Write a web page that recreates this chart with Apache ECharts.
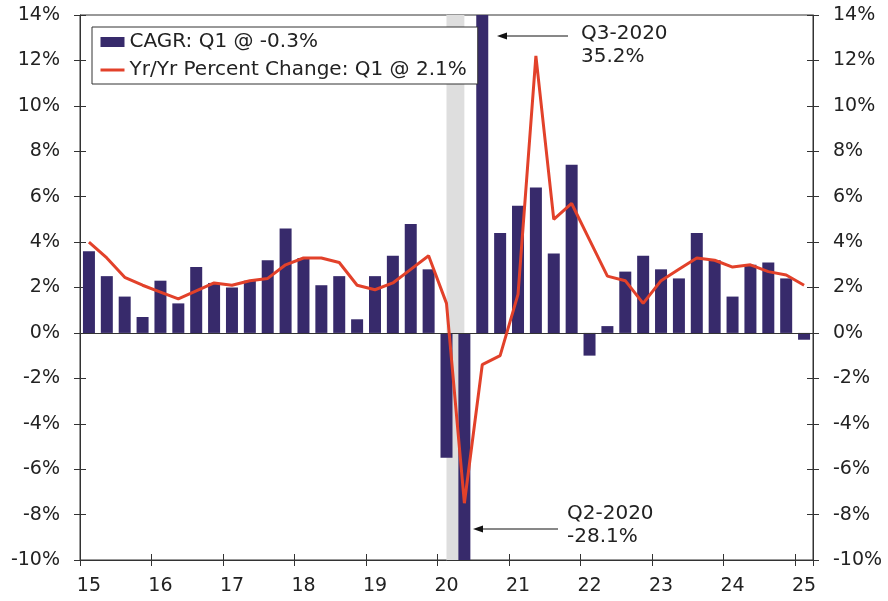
<!DOCTYPE html>
<html>
<head>
<meta charset="utf-8">
<script src="https://cdn.jsdelivr.net/npm/echarts@6/dist/echarts.min.js"></script>
<style>
  html, body { margin: 0; padding: 0; background: #fff; }
  #chart { width: 888px; height: 601px; }
</style>
</head>
<body>
<div id="chart"></div>
<script>
const quarters = [
  '2015Q1', '2015Q2', '2015Q3', '2015Q4',
  '2016Q1', '2016Q2', '2016Q3', '2016Q4',
  '2017Q1', '2017Q2', '2017Q3', '2017Q4',
  '2018Q1', '2018Q2', '2018Q3', '2018Q4',
  '2019Q1', '2019Q2', '2019Q3', '2019Q4',
  '2020Q1', '2020Q2', '2020Q3', '2020Q4',
  '2021Q1', '2021Q2', '2021Q3', '2021Q4',
  '2022Q1', '2022Q2', '2022Q3', '2022Q4',
  '2023Q1', '2023Q2', '2023Q3', '2023Q4',
  '2024Q1', '2024Q2', '2024Q3', '2024Q4',
  '2025Q1'
]

// annualized quarterly growth (bars)
const cagr = [
  3.6, 2.5, 1.6, 0.7,
  2.3, 1.3, 2.9, 2.2,
  2.0, 2.3, 3.2, 4.6,
  3.3, 2.1, 2.5, 0.6,
  2.5, 3.4, 4.8, 2.8,
  -5.5, -28.1, 35.2, 4.4,
  5.6, 6.4, 3.5, 7.4,
  -1.0, 0.3, 2.7, 3.4,
  2.8, 2.4, 4.4, 3.2,
  1.6, 3.0, 3.1, 2.4,
  -0.3
]

// year over year change (line)
const yoy = [
  4.0, 3.3, 2.45, 2.1,
  1.8, 1.5, 1.85, 2.2,
  2.1, 2.3, 2.4, 3.0,
  3.3, 3.3, 3.1, 2.1,
  1.9, 2.2, 2.8, 3.4,
  1.3, -7.5, -1.4, -1.0,
  1.7, 12.2, 5.0, 5.7,
  4.1, 2.5, 2.3, 1.3,
  2.3, 2.8, 3.3, 3.2,
  2.9, 3.0, 2.7, 2.55,
  2.1
]

// recession shading, from mid Q1 2020 to mid Q2 2020
const recession = ['2020Q1', '2020Q2']
const barName = 'CAGR: Q1 @ -0.3%'
const lineName = 'Yr/Yr Percent Change: Q1 @ 2.1%'

const FONT = 'DejaVu Sans'
const AXIS = '#333'
const TXT = '#222'
const RED = '#e2412a'

const chart = echarts.init(document.getElementById('chart'))

const yBase = {
  type: 'value',
  min: -10,
  max: 14,
  interval: 2,
  splitLine: { show: false },
  axisLine: { show: true, lineStyle: { color: AXIS, width: 1 } },
  axisTick: { show: true, inside: false, length: 6, lineStyle: { color: AXIS } },
  axisLabel: {
    formatter: '{value}%',
    fontFamily: FONT,
    fontSize: 19,
    color: TXT,
    margin: 20
  }
}
const yInner = {
  type: 'value',
  min: -10,
  max: 14,
  interval: 2,
  splitLine: { show: false },
  axisLine: { show: false },
  axisLabel: { show: false },
  axisTick: { show: true, inside: true, length: 6, lineStyle: { color: AXIS } }
}

// band centre of a quarter on the hidden linear axis
const qPos = q => quarters.indexOf(q) + 0.5

const option = {
  animation: false,
  backgroundColor: '#fff',
  grid: {
    left: 80,
    right: 75,
    top: 15,
    bottom: 41,
    show: true,
    borderColor: AXIS,
    borderWidth: 1,
    backgroundColor: 'transparent'
  },
  legend: {
    orient: 'vertical',
    left: 92,
    top: 27,
    padding: [5, 11, 4, 7],
    itemGap: 8,
    itemWidth: 24,
    itemHeight: 10,
    backgroundColor: '#fff',
    borderColor: AXIS,
    borderWidth: 1,
    borderRadius: 0,
    textStyle: { fontFamily: FONT, fontSize: 20, color: TXT },
    data: [
      { name: barName, icon: 'rect' },
      { name: lineName, itemStyle: { opacity: 0 }, lineStyle: { width: 3, color: RED } }
    ]
  },
  xAxis: [
    {
      // zero line carrying the bars
      type: 'category',
      data: quarters,
      position: 'bottom',
      z: 3,
      axisLine: { show: true, onZero: true, lineStyle: { color: AXIS, width: 1 } },
      axisTick: { show: false },
      axisLabel: { show: false }
    },
    {
      type: 'category',
      data: quarters,
      position: 'bottom',
      axisLine: { show: true, onZero: false, lineStyle: { color: AXIS, width: 1 } },
      axisTick: { show: true, interval: 3, length: 6, lineStyle: { color: AXIS } },
      axisLabel: {
        interval: 3,
        margin: 17,
        fontFamily: FONT,
        fontSize: 19,
        color: TXT,
        formatter: v => v.slice(2, 4)
      }
    },
    {
      type: 'category',
      data: quarters,
      position: 'bottom',
      axisLine: { show: false, onZero: false },
      axisTick: { show: true, inside: true, interval: 3, length: 6, lineStyle: { color: AXIS } },
      axisLabel: { show: false }
    },
    {
      // linear twin of the category axis, for the recession band
      type: 'value',
      show: false,
      min: 0,
      max: quarters.length,
      position: 'bottom'
    }
  ],
  yAxis: [
    Object.assign({}, yBase, { position: 'left' }),
    Object.assign({}, yBase, { position: 'right' }),
    Object.assign({}, yInner, { position: 'left' }),
    Object.assign({}, yInner, { position: 'right' })
  ],
  series: [
    {
      name: 'recession',
      type: 'line',
      xAxisIndex: 3,
      yAxisIndex: 0,
      data: [],
      z: 1,
      silent: true,
      markArea: {
        silent: true,
        z: 1,
        itemStyle: { color: '#dedede' },
        data: [[{ xAxis: qPos(recession[0]) }, { xAxis: qPos(recession[1]) }]]
      }
    },
    {
      name: barName,
      type: 'bar',
      xAxisIndex: 0,
      yAxisIndex: 0,
      data: cagr,
      barWidth: 12,
      z: 2,
      itemStyle: { color: '#372a6b' }
    },
    {
      name: lineName,
      type: 'line',
      xAxisIndex: 0,
      yAxisIndex: 0,
      data: yoy,
      symbol: 'none',
      z: 4,
      lineStyle: { color: RED, width: 3 },
      itemStyle: { color: RED }
    }
  ],
  graphic: [
    {
      type: 'text',
      left: 581,
      top: 22,
      style: {
        text: 'Q3-2020\n35.2%',
        fontFamily: FONT,
        fontSize: 20,
        lineHeight: 23,
        fill: TXT
      }
    },
    {
      type: 'line',
      shape: { x1: 568, y1: 36, x2: 500, y2: 36 },
      style: { stroke: '#111', lineWidth: 1 }
    },
    {
      type: 'polygon',
      shape: { points: [[497, 36], [507, 32.5], [507, 39.5]] },
      style: { fill: '#111' }
    },
    {
      type: 'text',
      left: 567,
      top: 502,
      style: {
        text: 'Q2-2020\n-28.1%',
        fontFamily: FONT,
        fontSize: 20,
        lineHeight: 23,
        fill: TXT
      }
    },
    {
      type: 'line',
      shape: { x1: 558, y1: 529, x2: 476, y2: 529 },
      style: { stroke: '#111', lineWidth: 1 }
    },
    {
      type: 'polygon',
      shape: { points: [[473, 529], [483, 525.5], [483, 532.5]] },
      style: { fill: '#111' }
    }
  ]
}

chart.setOption(option)
</script>
</body>
</html>
